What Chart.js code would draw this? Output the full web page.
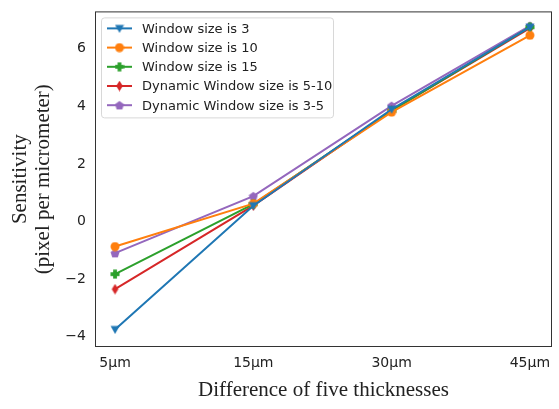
<!DOCTYPE html>
<html><head><meta charset="utf-8">
<script src="https://cdn.jsdelivr.net/npm/chart.js@4/dist/chart.umd.min.js"></script>
<style>html,body{margin:0;padding:0;background:#fff}#wrap{width:559px;height:409px}</style>
</head><body><div id="wrap"><canvas id="c" width="559" height="409"></canvas></div>
<script>
const categories = ["5µm", "15µm", "30µm", "45µm"];
const seriesNames = ["Window size is 3", "Window size is 10", "Window size is 15", "Dynamic Window size is 5-10", "Dynamic Window size is 3-5"];
const win3 = [-3.75, 0.55, 3.9, 6.75];
const win10 = [-0.87, 0.62, 3.8, 6.47];
const win15 = [-1.83, 0.6, 3.85, 6.75];
const dyn510 = [-2.35, 0.55, 3.85, 6.72];
const dyn35 = [-1.1, 0.88, 4.02, 6.8];
const yTicks = [-4, -2, 0, 2, 4, 6];
const colors = ["#1f77b4", "#ff7f0e", "#2ca02c", "#d62728", "#9467bd"];

function mk(drawFn, size) {
  const c = document.createElement('canvas');
  c.width = size; c.height = size;
  const g = c.getContext('2d');
  drawFn(g, size);
  return c;
}
function triDown(color){return mk((g,s)=>{g.fillStyle=color;g.beginPath();g.moveTo(0.5,1.5);g.lineTo(s-0.5,1.5);g.lineTo(s/2,s-0.5);g.closePath();g.fill();},10);}
function circ(color){return mk((g,s)=>{g.fillStyle=color;g.beginPath();g.arc(s/2,s/2,s/2-0.5,0,Math.PI*2);g.fill();},10);}
function plusF(color){return mk((g,s)=>{g.fillStyle=color;const a=s/2,w=1.9,r=s/2-0.5;g.fillRect(a-r,a-w,2*r,2*w);g.fillRect(a-w,a-r,2*w,2*r);},10);}
function thinDia(color){return mk((g,s)=>{g.fillStyle=color;g.beginPath();g.moveTo(s/2,0.3);g.lineTo(s/2+3.3,s/2);g.lineTo(s/2,s-0.3);g.lineTo(s/2-3.3,s/2);g.closePath();g.fill();},11);}
function penta(color){return mk((g,s)=>{g.fillStyle=color;g.beginPath();const r=s/2-0.3;for(let i=0;i<5;i++){const a=-Math.PI/2+i*2*Math.PI/5;const x=s/2+r*Math.cos(a),y=s/2+0.5+r*Math.sin(a);i?g.lineTo(x,y):g.moveTo(x,y);}g.closePath();g.fill();},10);}

const markers = [triDown(colors[0]), circ(colors[1]), plusF(colors[2]), thinDia(colors[3]), penta(colors[4])];
const allSeries = [win3, win10, win15, dyn510, dyn35];

const datasets = allSeries.map((arr, i) => ({
  label: seriesNames[i],
  data: arr.map((v, j) => ({x: j, y: v})),
  borderColor: colors[i],
  backgroundColor: colors[i],
  borderWidth: 2,
  pointStyle: markers[i],
  pointRadius: 5,
  tension: 0
}));

const frameLegend = {
  id: 'frameLegend',
  afterDraw(chart) {
    const ctx = chart.ctx, a = chart.chartArea;
    ctx.save();
    ctx.strokeStyle = '#333';
    ctx.lineWidth = 1;
    ctx.strokeRect(a.left + 0.5, a.top + 0.5, a.right - a.left - 1, a.bottom - a.top - 1);
    // legend
    const lx = a.left + 6, ly = a.top + 6, lw = 232, lh = 100;
    ctx.fillStyle = 'rgba(255,255,255,0.85)';
    ctx.strokeStyle = '#d8d8d8';
    ctx.beginPath();
    if (ctx.roundRect) ctx.roundRect(lx + 0.5, ly + 0.5, lw, lh, 3); else ctx.rect(lx + 0.5, ly + 0.5, lw, lh);
    ctx.fill(); ctx.stroke();
    ctx.font = '13px "DejaVu Sans"';
    ctx.textBaseline = 'middle';
    for (let i = 0; i < seriesNames.length; i++) {
      const y = ly + 11 + i * 19.2;
      ctx.strokeStyle = colors[i]; ctx.lineWidth = 2;
      ctx.beginPath(); ctx.moveTo(lx + 6, y); ctx.lineTo(lx + 31, y); ctx.stroke();
      const m = markers[i];
      ctx.drawImage(m, lx + 18.5 - m.width / 2, y - m.height / 2);
      ctx.fillStyle = '#222';
      ctx.fillText(seriesNames[i], lx + 41, y + 1);
    }
    ctx.restore();
  }
};

new Chart(document.getElementById('c'), {
  type: 'line',
  data: { datasets },
  options: {
    responsive: false,
    animation: false,
    layout: { padding: { left: 0, right: 7, top: 10, bottom: 0 } },
    plugins: { legend: { display: false }, tooltip: { enabled: false } },
    scales: {
      x: {
        type: 'linear', min: -0.145, max: 3.16,
        afterBuildTicks: s => { s.ticks = categories.map((c, i) => ({ value: i })); },
        afterFit: s => { s.height = 62; },
        grid: { display: false, drawTicks: true, tickLength: 6, tickColor: '#333' },
        border: { display: false },
        ticks: { callback: (v) => categories[v] ?? '', color: '#222', font: { family: 'DejaVu Sans', size: 14 }, padding: 2, maxRotation: 0 },
        title: { display: true, text: 'Difference of five thicknesses', color: '#222', font: { family: 'Liberation Serif', size: 21 }, padding: { top: 1, bottom: 6 } }
      },
      y: {
        min: -4.36, max: 7.3,
        afterBuildTicks: s => { s.ticks = yTicks.map(v => ({ value: v })); },
        afterFit: s => { s.width = 95; },
        grid: { display: false, drawTicks: true, tickLength: 6, tickColor: '#333' },
        border: { display: false },
        ticks: { callback: v => (v < 0 ? '\u2212' + Math.abs(v) : '' + v), color: '#222', font: { family: 'DejaVu Sans', size: 14 }, padding: 3 },
        title: { display: true, text: ['Sensitivity', '(pixel per micrometer)'], color: '#222', font: { family: 'Liberation Serif', size: 21, lineHeight: 1.1 }, padding: { top: 9, bottom: 2 } }
      }
    }
  },
  plugins: [frameLegend]
});
</script></body></html>
